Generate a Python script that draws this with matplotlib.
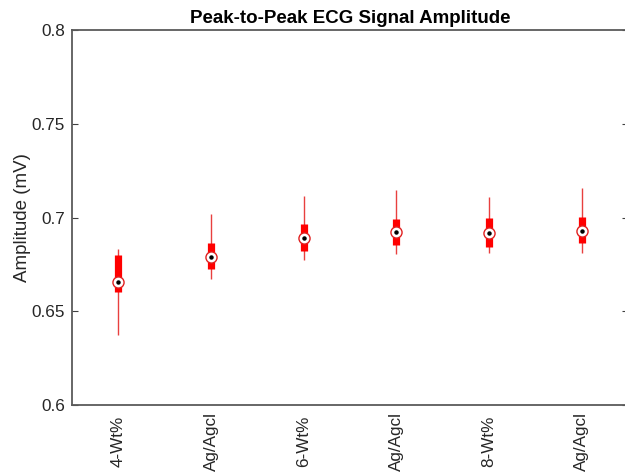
import numpy as np
import matplotlib
matplotlib.use('Agg')
import matplotlib.pyplot as plt

plt.rcParams['font.family'] = ['Liberation Sans', 'DejaVu Sans']

# groups and five-number summaries (mV)
labels = ['4-Wt%', 'Ag/Agcl', '6-Wt%', 'Ag/Agcl', '8-Wt%', 'Ag/Agcl']
whisk_lo = [0.6373, 0.6672, 0.6773, 0.6805, 0.6812, 0.6812]
q1 = [0.6601, 0.6725, 0.6821, 0.6853, 0.6844, 0.6862]
med = [0.6658, 0.6788, 0.6889, 0.6921, 0.6916, 0.6930]
q3 = [0.6800, 0.6862, 0.6964, 0.6990, 0.6996, 0.7001]
whisk_hi = [0.6832, 0.7019, 0.7116, 0.7147, 0.7108, 0.7156]

pos = np.arange(1, len(labels) + 1)

fig = plt.figure(figsize=(6.25, 4.72), dpi=100)
ax = fig.add_axes([72/625, 67/472, 556/625, 375/472])

# compact boxplot style: thin whisker, thick box, circled median
ax.vlines(pos, whisk_lo, whisk_hi, color='#e8403f', lw=1.0, zorder=1)
ax.vlines(pos, q1, q3, color='red', lw=5.2, capstyle='butt', zorder=2)
ax.plot(pos, med, 'o', ms=8, mfc='white', mec='#e02020', mew=1.0, zorder=3)
ax.plot(pos, med, 'o', ms=2.2, color='black', zorder=4)

ax.set_xlim(0.5, 6.5)
ax.set_ylim(0.6, 0.8)
ax.set_yticks([0.6, 0.65, 0.7, 0.75, 0.8])
ax.set_yticklabels(['0.6', '0.65', '0.7', '0.75', '0.8'])
ax.set_xticks(pos)
# labels are centred vertically below the axis, like matlab's boxplot text
ax.set_xticklabels(labels, rotation=90, va='center')

ax.tick_params(axis='y', direction='in', length=4, width=0.8, color='#404040',
               labelsize=12.3, labelcolor='#262626', pad=5, right=True)
ax.tick_params(axis='x', length=0, labelsize=12.3, labelcolor='#262626', pad=26)
for s in ax.spines.values():
    s.set_color('#5a5a5a')
    s.set_linewidth(1.3)

ax.set_ylabel('Amplitude (mV)', fontsize=13.5, color='#262626')
ax.yaxis.set_label_coords(-0.074, 0.5)
ax.set_title('Peak-to-Peak ECG Signal Amplitude', fontsize=13.5,
             fontweight='bold', color='black', pad=5)

fig.savefig('out.png', dpi=100)
